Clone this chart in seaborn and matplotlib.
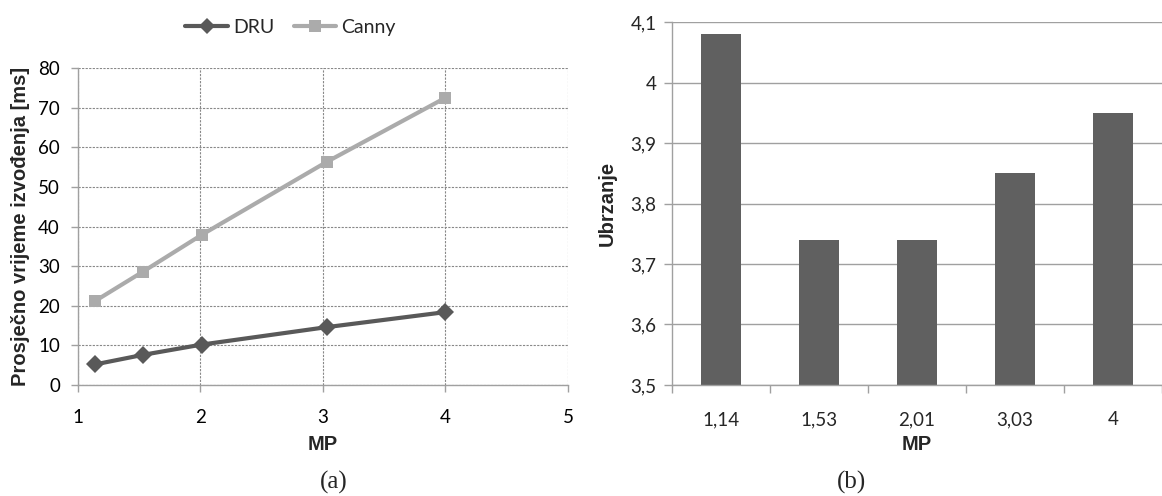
import matplotlib
matplotlib.use("Agg")
import matplotlib.pyplot as plt
import seaborn as sns
import pandas as pd
from matplotlib.lines import Line2D

# ---- data ----
mp_values = [1.14, 1.53, 2.01, 3.03, 4.0]
dru_ms = [5.2, 7.6, 10.2, 14.6, 18.4]
canny_ms = [21.2, 28.6, 37.9, 56.3, 72.5]
series_names = ["DRU", "Canny"]

bar_labels = ["1,14", "1,53", "2,01", "3,03", "4"]
speedup = [4.08, 3.74, 3.74, 3.85, 3.95]

left_xticks = [1, 2, 3, 4, 5]
left_yticks = [0, 10, 20, 30, 40, 50, 60, 70, 80]
right_yticks = [3.5, 3.6, 3.7, 3.8, 3.9, 4.0, 4.1]
right_yticklabels = ["3,5", "3,6", "3,7", "3,8", "3,9", "4", "4,1"]

# ---- style ----
sns.set_theme(style="white")
plt.rcParams["font.family"] = ["Lato", "DejaVu Sans"]

dark = "#595959"
light = "#ababab"
barc = "#606060"
gridc = "#a0a0a0"
tickfs = 13.5
labkw = dict(fontfamily=["Liberation Sans", "DejaVu Sans"], fontweight="bold", fontsize=14.5)
serifkw = dict(fontfamily=["Liberation Serif", "DejaVu Serif"], fontsize=18)

fig = plt.figure(figsize=(11.62, 4.96), dpi=100)

# ---- left: line chart ----
ax1 = fig.add_axes([0.0671, 0.2238, 0.4217, 0.639])
df = pd.DataFrame({
    "MP": mp_values * 2,
    "ms": dru_ms + canny_ms,
    "series": [series_names[0]] * len(mp_values) + [series_names[1]] * len(mp_values),
})
sns.lineplot(data=df, x="MP", y="ms", hue="series", style="series",
             palette={"DRU": dark, "Canny": light},
             markers={"DRU": "D", "Canny": "s"}, dashes=False,
             markersize=9, linewidth=3, markeredgewidth=0, ax=ax1, legend=False)
ax1.set_xlim(1, 5)
ax1.set_ylim(0, 80)
ax1.set_xticks(left_xticks)
ax1.set_yticks(left_yticks)
ax1.grid(True, color="#888888", linestyle=(0, (2.0, 1.2)), linewidth=0.8)
ax1.set_axisbelow(True)
for s in ["top", "right"]:
    ax1.spines[s].set_visible(False)
for s in ["left", "bottom"]:
    ax1.spines[s].set_color(gridc)
    ax1.spines[s].set_linewidth(1.0)
ax1.tick_params(axis="x", direction="out", length=5, width=1, color=gridc,
                labelsize=tickfs, labelcolor="black", pad=12, bottom=True)
ax1.tick_params(axis="y", direction="out", length=5, width=1, color=gridc,
                labelsize=tickfs, labelcolor="black", pad=8, left=True)
ax1.set_xlabel("MP", labelpad=7, **labkw)
ax1.set_ylabel("Prosječno vrijeme izvođenja [ms]", labelpad=6, **labkw)

handles = [
    Line2D([], [], color=dark, marker="D", markersize=8, linewidth=3, markeredgewidth=0),
    Line2D([], [], color=light, marker="s", markersize=8, linewidth=3, markeredgewidth=0),
]
fig.legend(handles, series_names, loc="center", bbox_to_anchor=(0.25, 0.944),
           ncol=2, frameon=False, fontsize=14, handlelength=2.2,
           columnspacing=1.0, handletextpad=0.25)

fig.text(0.287, 0.028, "(a)", ha="center", va="center", **serifkw)

# ---- right: bar chart ----
ax2 = fig.add_axes([0.5783, 0.2238, 0.4217, 0.7318])
dfb = pd.DataFrame({"MP": bar_labels, "speedup": speedup})
sns.barplot(data=dfb, x="MP", y="speedup", color=barc, width=0.4,
            saturation=1, ax=ax2)
for p in ax2.patches:
    p.set_edgecolor("none")
ax2.set_xlim(-0.5, len(bar_labels) - 0.5)
ax2.set_ylim(3.5, 4.1)
ax2.set_yticks(right_yticks)
ax2.set_yticklabels(right_yticklabels)
ax2.yaxis.grid(True, color=gridc, linewidth=1.0)
ax2.xaxis.grid(False)
ax2.set_axisbelow(True)
for s in ["top", "right"]:
    ax2.spines[s].set_visible(False)
for s in ["left", "bottom"]:
    ax2.spines[s].set_color(gridc)
    ax2.spines[s].set_linewidth(1.0)
ax2.set_xticks([i for i in range(len(bar_labels))])
ax2.set_xticklabels(bar_labels)
ax2.set_xticks([i - 0.5 for i in range(len(bar_labels) + 1)], minor=True)
ax2.tick_params(axis="x", which="major", length=0, labelsize=tickfs, pad=19)
ax2.tick_params(axis="x", which="minor", direction="out", length=6, width=1,
                color=gridc, bottom=True)
ax2.tick_params(axis="y", direction="out", length=6, width=1, color=gridc,
                labelsize=tickfs, left=True, pad=5)
ax2.set_xlabel("MP", labelpad=5, **labkw)
ax2.set_ylabel("Ubrzanje", labelpad=10, **labkw)

fig.text(0.7325, 0.028, "(b)", ha="center", va="center", **serifkw)

fig.savefig("out.png", dpi=100)
